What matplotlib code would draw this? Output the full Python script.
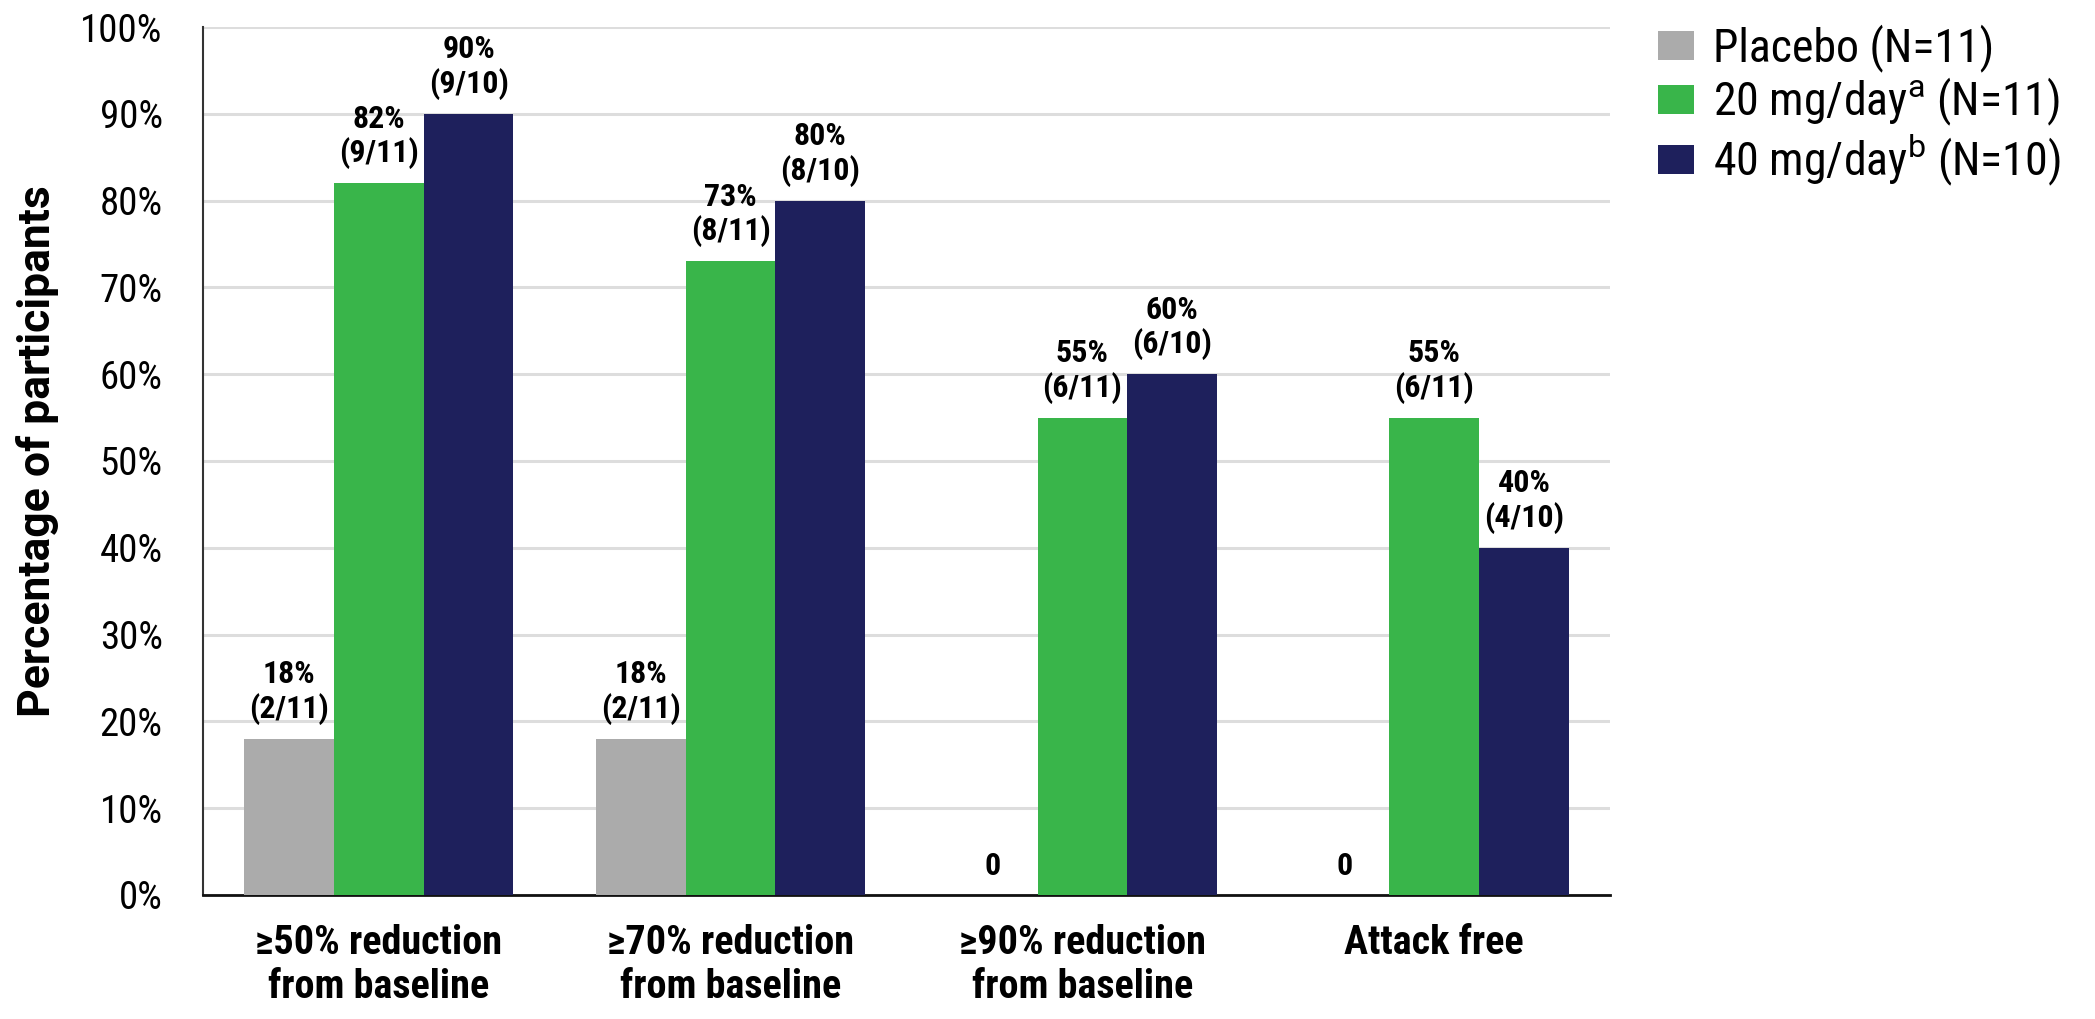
import matplotlib
matplotlib.use("Agg")
import matplotlib.pyplot as plt
import numpy as np

plt.rcParams['font.family'] = ['Roboto Condensed', 'Roboto', 'DejaVu Sans']
plt.rcParams['mathtext.fontset'] = 'custom'
plt.rcParams['mathtext.rm'] = 'Roboto'

# Outcome categories and response data per arm
categories = ["≥50% reduction\nfrom baseline", "≥70% reduction\nfrom baseline",
              "≥90% reduction\nfrom baseline", "Attack free"]
arm_names = ["Placebo (N=11)", r"20 mg/day$^{\mathrm{a}}$ (N=11)", r"40 mg/day$^{\mathrm{b}}$ (N=10)"]
arm_totals = [11, 11, 10]
placebo_pct = [18, 18, 0, 0]
mg20_pct = [82, 73, 55, 55]
mg40_pct = [90, 80, 60, 40]
placebo_n = [2, 2, 0, 0]
mg20_n = [9, 8, 6, 6]
mg40_n = [9, 8, 6, 4]
yticks = [0, 10, 20, 30, 40, 50, 60, 70, 80, 90, 100]

colors = ["#ABABAB", "#39B54A", "#1E205C"]

fig = plt.figure(figsize=(20.95, 10.19), dpi=100)
ax = fig.add_axes([0.0969, 0.1217, 0.6716, 0.8518])

x = np.arange(len(categories))
width = 0.255
pcts = [placebo_pct, mg20_pct, mg40_pct]
counts = [placebo_n, mg20_n, mg40_n]

handles = []
for i, (p, n, tot) in enumerate(zip(pcts, counts, arm_totals)):
    pos = x + (i - 1) * width
    bars = ax.bar(pos, p, width=width, color=colors[i], zorder=3, linewidth=0)
    handles.append(bars)
    for xi, v, k in zip(pos, p, n):
        label = "0" if v == 0 else f"{v}%\n({k}/{tot})"
        ax.annotate(label, (xi, v), xytext=(0, 10), textcoords="offset points",
                    ha="center", va="bottom", fontsize=23, fontweight="bold",
                    linespacing=1.15, zorder=4)

ax.set_xlim(-0.5, len(categories) - 0.5)
ax.set_ylim(0, 100)
ax.set_yticks(yticks)
ax.set_yticklabels([f"{t}%" for t in yticks], fontsize=28)
ax.set_xticks(x)
ax.set_xticklabels(categories, fontsize=29, fontweight="bold", linespacing=1.2)
ax.tick_params(axis="y", length=0, pad=29)
ax.tick_params(axis="x", length=0, pad=21)

ax.yaxis.grid(True, color="#DDDDDD", linewidth=2.2, zorder=0)
ax.set_axisbelow(True)
for s in ["top", "right"]:
    ax.spines[s].set_visible(False)
ax.spines["left"].set_color("#333333")
ax.spines["left"].set_linewidth(1.5)
ax.spines["bottom"].set_color("#111111")
ax.spines["bottom"].set_linewidth(2)

ax.set_ylabel("Percentage of participants", fontsize=32, fontweight="bold",
              family=["Roboto", "DejaVu Sans"])
ax.yaxis.set_label_coords(-0.102, 0.511)

fig.legend(handles, arm_names, loc="upper left", bbox_to_anchor=(0.7914, 0.976),
           frameon=False, fontsize=33, handlelength=0.79, handleheight=0.61,
           handletextpad=0.41, labelspacing=0.08, borderpad=0, borderaxespad=0)

fig.savefig("out.png", dpi=100)
